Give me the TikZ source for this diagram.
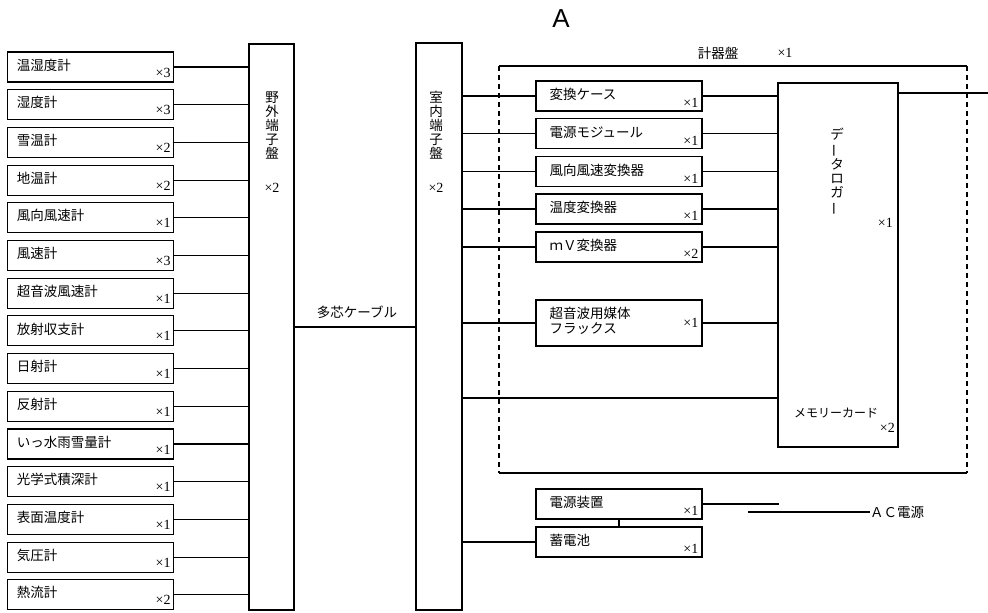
\documentclass[tikz,border=0pt]{standalone}
\usepackage{fontspec}
\newfontfamily\jpf{Noto Sans CJK JP}
\newfontfamily\serf{Liberation Serif}
\newfontfamily\sansf{Liberation Sans}
\tikzset{
  ln/.style={line width=1.1pt},
  dsh/.style={line width=1.1pt, dash pattern=on 5pt off 4pt},
  box/.style={draw, line width=1.1pt, minimum width=166pt, minimum height=30pt, inner sep=0pt},
  tall/.style={draw, line width=1.1pt, inner sep=0pt},
  jt/.style={font=\jpf\fontsize{13.5}{14}\selectfont, inner sep=0pt},
  jts/.style={font=\jpf\fontsize{12}{14}\selectfont, inner sep=0pt},
  nt/.style={font=\serf\fontsize{14}{15}\selectfont, inner sep=0pt},
}
\newcommand\LBox[4]{%
  \node[box] (#1) at (90.75,#2) {};
  \node[jt,anchor=west] (#1t) at ([shift={(9.5pt,2pt)}]#1.west) {#3};
  \node[nt,anchor=base east] (#1n) at ([shift={(-3.5pt,5.5pt)}]#1.south east) {×#4};
  \draw[ln] (#1.east) -- (#1.east -| OT.west);
}
\newcommand\CBox[4]{%
  \node[box] (#1) at (619,#2) {};
  \node[jt,anchor=west] (#1t) at ([shift={(14pt,1.5pt)}]#1.west) {#3};
  \node[nt,anchor=base east] (#1n) at ([shift={(-4pt,4pt)}]#1.south east) {×#4};
}
\begin{document}
\begin{tikzpicture}[x=1pt,y=-1pt]
\useasboundingbox (0,0) rectangle (988,613);

% title
\node[font=\sansf\fontsize{26}{28}\selectfont, inner sep=0pt] (ttl) at (561,19) {A};

% outdoor terminal board
\node[tall, minimum width=45pt, minimum height=566pt] (OT) at (271.5,327) {};
\node[jt, align=center] (OTt) at (272,125) {野\\外\\端\\子\\盤};
\node[nt] (OTn) at (272,188) {×2};

% indoor terminal board
\node[tall, minimum width=46pt, minimum height=567pt] (IT) at (439,326.5) {};
\node[jt, align=center] (ITt) at (436,125) {室\\内\\端\\子\\盤};
\node[nt] (ITn) at (436,188) {×2};

% sensors
\LBox{L1}{67}{温湿度計}{3}
\LBox{L2}{104.7}{湿度計}{3}
\LBox{L3}{142.4}{雪温計}{2}
\LBox{L4}{180.1}{地温計}{2}
\LBox{L5}{217.8}{風向風速計}{1}
\LBox{L6}{255.5}{風速計}{3}
\LBox{L7}{293.2}{超音波風速計}{1}
\LBox{L8}{330.9}{放射収支計}{1}
\LBox{L9}{368.6}{日射計}{1}
\LBox{L10}{406.3}{反射計}{1}
\LBox{L11}{444}{いっ水雨雪量計}{1}
\LBox{L12}{481.7}{光学式積深計}{1}
\LBox{L13}{519.4}{表面温度計}{1}
\LBox{L14}{557.1}{気圧計}{1}
\LBox{L15}{594.8}{熱流計}{2}

% multi-core cable
\coordinate (cab) at (0,327);
\draw[ln] (OT.east |- cab) -- (IT.west |- cab);
\node[jt] (cabt) at (357,312) {多芯ケーブル};

% instrument panel frame
\coordinate (f1) at (499,66);
\coordinate (f2) at (967,66);
\coordinate (f3) at (967,473);
\coordinate (f4) at (499,473);
\draw[ln] (f1) -- (f2);
\draw[ln] (f4) -- (f3);
\draw[dsh] (f1) -- (f4);
\draw[dsh] (f2) -- (f3);
\node[jt] (pnl) at (718,53) {計器盤};
\node[nt] (pnln) at (785,53) {×1};

% data logger
\node[tall, minimum width=120pt, minimum height=364pt] (DL) at (838,265) {};
\node[jt, align=center] (DLt) at (837,172) {デ\\\rotatebox[origin=c]{90}{ー}\\タ\\ロ\\ガ\\\rotatebox[origin=c]{90}{ー}};
\node[nt, anchor=east] (DLn) at (893,223) {×1};
\node[jts] (DLm) at (836,413) {メモリーカード};
\node[nt, anchor=east] (DLm2) at (895,428) {×2};
\coordinate (out) at (988,93);
\draw[ln] (DL.east |- out) -- (out);

% converters
\CBox{C1}{96}{変換ケース}{1}
\CBox{C2}{133.5}{電源モジュール}{1}
\CBox{C3}{171.5}{風向風速変換器}{1}
\CBox{C4}{209}{温度変換器}{1}
\CBox{C5}{247}{ｍＶ変換器}{2}
\node[box, minimum height=46pt] (C6) at (619,323) {};
\node[jt, anchor=north west, align=left, font=\jpf\fontsize{13.5}{15}\selectfont] (C6t) at ([shift={(14pt,-7pt)}]C6.north west) {超音波用媒体\\フラックス};
\node[nt, anchor=east] (C6n) at ([shift={(-4pt,0pt)}]C6.east) {×1};
\foreach \c in {C1,C2,C3,C4,C5,C6} {
  \draw[ln] (IT.east |- \c.west) -- (\c.west);
  \draw[ln] (\c.east) -- (\c.east -| DL.west);
}
\coordinate (mc) at (0,398);
\draw[ln] (IT.east |- mc) -- (DL.west |- mc);

% power supply
\CBox{P1}{504}{電源装置}{1}
\CBox{P2}{542}{蓄電池}{1}
\draw[ln] (P1.south) -- (P2.north);
\draw[ln] (IT.east |- P2.west) -- (P2.west);
\coordinate (p1e) at (779,504);
\draw[ln] (P1.east) -- (p1e);
\node[jt, anchor=west] (AC) at (870,512) {ＡＣ電源};
\coordinate (acs) at (748,512);
\draw[ln] (acs) -- (AC.west);
\end{tikzpicture}
\end{document}
